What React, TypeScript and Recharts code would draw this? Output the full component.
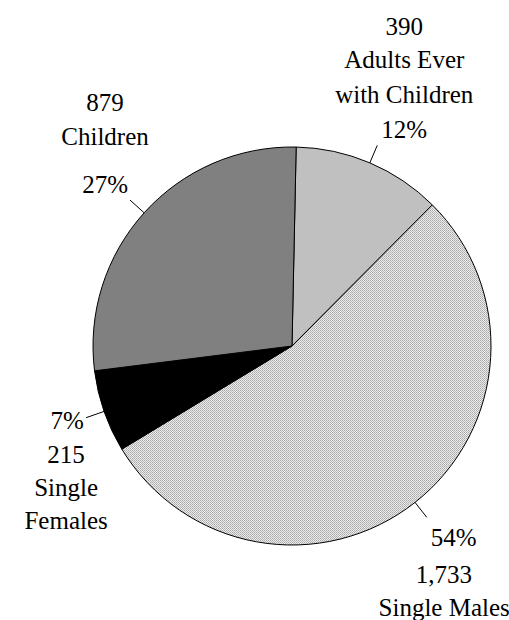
import React from 'react';
import { PieChart, Pie, Cell } from 'recharts';

const groups = ['Adults Ever with Children', 'Single Males', 'Single Females', 'Children'];
const counts = [390, 1733, 215, 879];
const nameLines = [['Adults Ever', 'with Children'], ['Single Males'], ['Single', 'Females'], ['Children']];
const fills = ['#c0c0c0', 'url(#dots)', '#000000', '#808080'];

const data = groups.map((name, i) => ({ name, value: counts[i] }));

const RADIAN = Math.PI / 180;
const FONT = "Liberation Serif, DejaVu Serif, serif";

// text lines for each slice, placed relative to the outer end of its leader line
type Line = {
  kind: 'value' | 'pct' | 'name';
  idx?: number;
  dx: number;
  dy: number;
  anchor?: 'start' | 'middle' | 'end';
};
const layouts: Line[][] = [
  [
    { kind: 'value', dx: 27, dy: -119 },
    { kind: 'name', idx: 0, dx: 27, dy: -86 },
    { kind: 'name', idx: 1, dx: 27, dy: -51 },
    { kind: 'pct', dx: 27, dy: -16 },
  ],
  [
    { kind: 'pct', dx: 27, dy: 20 },
    { kind: 'value', dx: 17, dy: 57 },
    { kind: 'name', idx: 0, dx: 83, dy: 90, anchor: 'end' },
  ],
  [
    { kind: 'pct', dx: -19, dy: 3 },
    { kind: 'value', dx: -20, dy: 37 },
    { kind: 'name', idx: 0, dx: -20, dy: 70 },
    { kind: 'name', idx: 1, dx: -20, dy: 103 },
  ],
  [
    { kind: 'value', dx: -25, dy: -98 },
    { kind: 'name', idx: 0, dx: -25, dy: -64 },
    { kind: 'pct', dx: -25, dy: -16 },
  ],
];

const renderLabel = (props: any) => {
  const { cx, cy, midAngle, outerRadius, percent, value, index } = props;
  const cos = Math.cos(-midAngle * RADIAN);
  const sin = Math.sin(-midAngle * RADIAN);
  const x0 = cx + outerRadius * cos;
  const y0 = cy + outerRadius * sin;
  const x1 = cx + (outerRadius + 19) * cos;
  const y1 = cy + (outerRadius + 19) * sin;
  return (
    <g>
      <line x1={x0} y1={y0} x2={x1} y2={y1} stroke="#000" strokeWidth={1} />
      {layouts[index].map((ln, k) => {
        let text = '';
        if (ln.kind === 'value') text = Number(value).toLocaleString('en-US');
        else if (ln.kind === 'pct') text = `${Math.round(percent * 100)}%`;
        else text = nameLines[index][ln.idx ?? 0];
        return (
          <text
            key={k}
            x={x1 + ln.dx}
            y={y1 + ln.dy}
            textAnchor={ln.anchor ?? 'middle'}
            dominantBaseline="central"
            fontFamily={FONT}
            fontSize={25}
            fill="#000"
          >
            {text}
          </text>
        );
      })}
    </g>
  );
};

export default function App() {
  return (
    <div style={{ position: 'absolute', left: 0, top: 0, background: '#fff', fontFamily: FONT }}>
      <PieChart width={509} height={620}>
        <defs>
          <pattern id="dots" width={2} height={2} patternUnits="userSpaceOnUse">
            <rect width={2} height={2} fill="#ececec" />
            <rect x={0} y={0} width={1} height={1} fill="#a8a8a8" />
            <rect x={1} y={1} width={1} height={1} fill="#b8b8b8" />
          </pattern>
        </defs>
        <Pie
          data={data}
          dataKey="value"
          nameKey="name"
          cx={287}
          cy={341}
          outerRadius={199}
          startAngle={88.8}
          endAngle={-271.2}
          stroke="#000"
          strokeWidth={1}
          label={renderLabel}
          labelLine={false}
          isAnimationActive={false}
        >
          {data.map((d, i) => (
            <Cell key={d.name} fill={fills[i]} stroke="#000" strokeWidth={1} />
          ))}
        </Pie>
      </PieChart>
    </div>
  );
}
